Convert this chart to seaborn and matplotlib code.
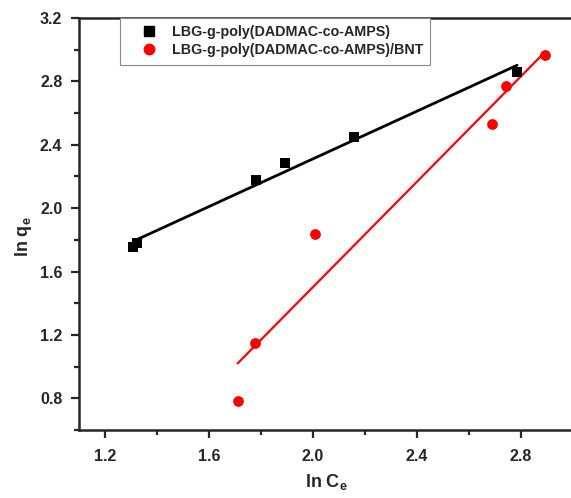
import matplotlib
matplotlib.use("Agg")
import matplotlib.pyplot as plt
import seaborn as sns
import numpy as np
import pandas as pd
from matplotlib.lines import Line2D
from matplotlib.ticker import MultipleLocator

# Data
x_black = [1.308, 1.323, 1.780, 1.894, 2.158, 2.785]
y_black = [1.753, 1.778, 2.175, 2.288, 2.446, 2.861]
x_red = [1.710, 1.778, 2.008, 2.688, 2.742, 2.892]
y_red = [0.783, 1.148, 1.835, 2.528, 2.773, 2.969]
series_names = ["LBG-g-poly(DADMAC-co-AMPS)", "LBG-g-poly(DADMAC-co-AMPS)/BNT"]
x_ticks = [1.2, 1.6, 2.0, 2.4, 2.8]
y_ticks = [0.8, 1.2, 1.6, 2.0, 2.4, 2.8, 3.2]

df_black = pd.DataFrame({"x": x_black, "y": y_black})
df_red = pd.DataFrame({"x": x_red, "y": y_red})

sns.set_style("ticks")
plt.rcParams["font.family"] = ["Liberation Sans", "DejaVu Sans"]
plt.rcParams["font.weight"] = "bold"
plt.rcParams["mathtext.fontset"] = "custom"
plt.rcParams["mathtext.rm"] = "Liberation Sans:bold"
plt.rcParams["mathtext.it"] = "Liberation Sans:bold"
plt.rcParams["mathtext.bf"] = "Liberation Sans:bold"

fig = plt.figure(figsize=(5.71, 4.98), dpi=100)
ax = fig.add_axes([79 / 571, 1 - 430 / 498, 494 / 571, 412 / 498])

sns.regplot(data=df_black, x="x", y="y", ax=ax, ci=None, marker="s", color="black",
            scatter_kws={"s": 45, "alpha": 1, "linewidths": 0, "zorder": 3},
            line_kws={"lw": 2.0, "zorder": 2})
sns.regplot(data=df_red, x="x", y="y", ax=ax, ci=None, marker="o", color="#ff0000",
            scatter_kws={"s": 60, "alpha": 1, "linewidths": 0, "zorder": 3},
            line_kws={"lw": 1.6, "zorder": 2})

ax.set_xlim(1.1, 3.0)
ax.set_ylim(0.6, 3.2)
ax.set_xticks(x_ticks)
ax.set_yticks(y_ticks)
ax.xaxis.set_minor_locator(MultipleLocator(0.2))
ax.yaxis.set_minor_locator(MultipleLocator(0.2))
ax.tick_params(which="major", direction="out", length=6, width=1.6, labelsize=11.5)
ax.tick_params(axis="x", which="major", pad=8)
ax.tick_params(axis="y", which="major", pad=6)
ax.tick_params(which="minor", direction="out", length=3.5, width=1.6)
for lab in ax.get_xticklabels() + ax.get_yticklabels():
    lab.set_fontweight("bold")
for sp in ax.spines.values():
    sp.set_linewidth(1.8)
    sp.set_visible(True)

ax.set_xlabel(r"ln C$_{\mathrm{e}}$", fontsize=13, fontweight="bold", va="center")
ax.set_ylabel(r"ln q$_{\mathrm{e}}$", fontsize=13, fontweight="bold", va="center")
ax.xaxis.set_label_coords(0.5, -0.125)
ax.yaxis.set_label_coords(-0.112, 0.47)

handles = [
    Line2D([], [], marker="s", color="black", linestyle="none", markersize=6.5),
    Line2D([], [], marker="o", color="#ff0000", linestyle="none", markersize=7.5),
]
leg = ax.legend(handles, series_names, loc="upper left", bbox_to_anchor=(0.083, 1.0),
                borderaxespad=0, frameon=True, fancybox=False, framealpha=1,
                edgecolor="#888888", prop={"weight": "bold", "size": 10.3},
                handletextpad=0.1, handlelength=3.0, borderpad=0.5, labelspacing=0.3)
leg.get_frame().set_linewidth(0.8)

fig.savefig("out.png", dpi=100)
